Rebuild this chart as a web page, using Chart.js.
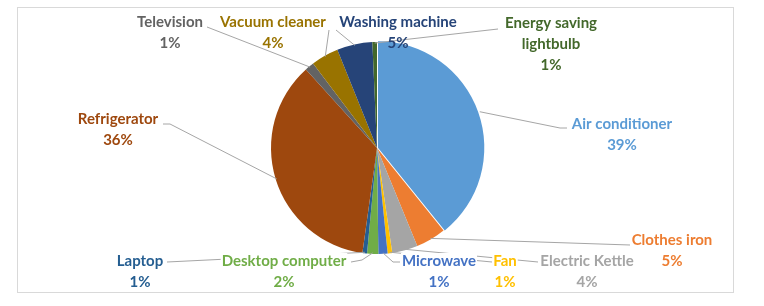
<!DOCTYPE html>
<html>
<head>
<meta charset="utf-8">
<script src="https://cdn.jsdelivr.net/npm/chart.js@4.4.1/dist/chart.umd.min.js"></script>
<style>
  html, body { margin: 0; padding: 0; background: #ffffff; }
  #wrap { width: 764px; height: 306px; position: relative; }
</style>
</head>
<body>
<div id="wrap"><canvas id="c" width="764" height="306"></canvas></div>
<script>
// ---- data (clockwise from 12 o'clock) ----
const categories = [
  'Air conditioner', 'Clothes iron', 'Electric Kettle', 'Fan', 'Microwave',
  'Desktop computer', 'Laptop', 'Refrigerator', 'Television', 'Vacuum cleaner',
  'Washing machine', ['Energy saving', 'lightbulb']
];
const shares = [39.2, 4.6, 3.9, 0.7, 1.4, 1.7, 0.7, 36.1, 1.4, 4.2, 5.4, 0.7];
const sliceColors = [
  '#5B9BD5', '#ED7D31', '#A5A5A5', '#FFC000', '#4472C4',
  '#70AD47', '#255E91', '#9E480E', '#636363', '#997300',
  '#264478', '#43682B'
];

// ---- layout of the data labels (label centre, leader points near label) ----
const labelLayout = [
  { x: 622, y: 124, lead: [[567, 128], [560, 128]] },
  { x: 672, y: 240, lead: [[630, 245]] },
  { x: 587, y: 261, lead: [[538, 262]] },
  { x: 505, y: 261, lead: [[492, 262]] },
  { x: 439, y: 261, lead: [[400, 262], [393, 262]] },
  { x: 284, y: 261, lead: [[351, 262], [362, 260]] },
  { x: 140, y: 261, lead: [[167, 262]] },
  { x: 118, y: 119, lead: [[163, 124], [170, 124]] },
  { x: 170, y: 22,  lead: [[207, 27]] },
  { x: 273, y: 22,  lead: [[329, 30]] },
  { x: 398, y: 22,  lead: [[336, 30]] },
  { x: 551, y: 23,  lead: [[498, 29]] }
];
const explode = [4, 0, 0, 0, 0, 0, 0, 0, 0, 0, 0, 0];

const labelPlugin = {
  id: 'excelLabels',
  beforeDraw(chart) {
    const ctx = chart.ctx;
    ctx.save();
    ctx.fillStyle = '#ffffff';
    ctx.fillRect(0, 0, chart.width, chart.height);
    ctx.strokeStyle = '#D9D9D9';
    ctx.lineWidth = 1;
    ctx.strokeRect(17.5, 7.5, 716, 285);
    ctx.restore();
  },
  afterDatasetsDraw(chart) {
    const ctx = chart.ctx;
    const meta = chart.getDatasetMeta(0);
    const data = chart.data.datasets[0].data;
    const total = data.reduce((a, b) => a + b, 0);
    ctx.save();
    // leader lines
    ctx.strokeStyle = '#A6A6A6';
    ctx.lineWidth = 1;
    meta.data.forEach((arc, i) => {
      const p = arc.getProps(['x', 'y', 'startAngle', 'endAngle', 'outerRadius'], true);
      const mid = (p.startAngle + p.endAngle) / 2;
      const off = explode[i] || 0;
      const r = p.outerRadius - 1;
      const ex = p.x + Math.cos(mid) * (r + off);
      const ey = p.y + Math.sin(mid) * (r + off);
      const pts = labelLayout[i].lead;
      ctx.beginPath();
      ctx.moveTo(pts[0][0], pts[0][1]);
      for (let k = 1; k < pts.length; k++) ctx.lineTo(pts[k][0], pts[k][1]);
      ctx.lineTo(ex, ey);
      ctx.stroke();
    });
    // labels
    ctx.font = 'bold 15px Lato, "Liberation Sans", sans-serif';
    ctx.textAlign = 'center';
    ctx.textBaseline = 'middle';
    const lh = 21;
    chart.data.labels.forEach((lab, i) => {
      const lines = Array.isArray(lab) ? lab.slice() : [lab];
      lines.push(Math.round(data[i] / total * 100) + '%');
      const L = labelLayout[i];
      // white backing so leader lines end at label edges
      lines.forEach((t, k) => {
        if (k === lines.length - 1) return;
        const w = ctx.measureText(t).width;
        ctx.fillStyle = '#ffffff';
        ctx.fillRect(L.x - w / 2 - 1, L.y + k * lh - 8, w + 2, 16);
      });
      ctx.fillStyle = sliceColors[i];
      lines.forEach((t, k) => {
        ctx.fillText(t, L.x, L.y + k * lh);
      });
    });
    ctx.restore();
  }
};

new Chart(document.getElementById('c'), {
  type: 'pie',
  data: {
    labels: categories,
    datasets: [{
      data: shares,
      backgroundColor: sliceColors,
      borderWidth: 0,
      offset: explode
    }]
  },
  options: {
    responsive: false,
    animation: false,
    devicePixelRatio: 1,
    layout: { padding: { left: 269, right: 279, top: 40, bottom: 50 } },
    plugins: { legend: { display: false }, tooltip: { enabled: false } }
  },
  plugins: [labelPlugin]
});
</script>
</body>
</html>
